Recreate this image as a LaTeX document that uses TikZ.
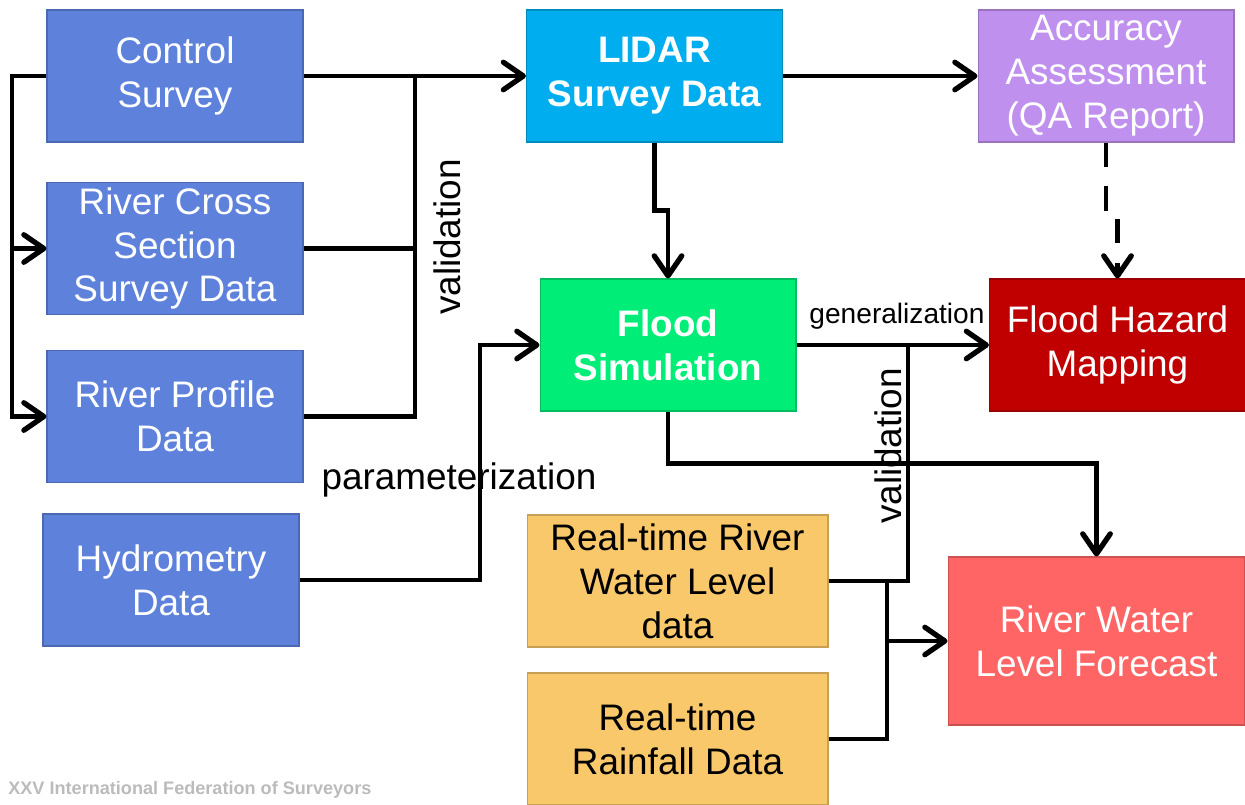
\documentclass[tikz,border=0pt]{standalone}
\usepackage{fontspec}
\setmainfont{Liberation Sans}
\usetikzlibrary{arrows.meta}
\definecolor{survey}{HTML}{5E82DC}
\definecolor{lidar}{HTML}{00AEEF}
\definecolor{qa}{HTML}{C090EF}
\definecolor{sim}{HTML}{00EE78}
\definecolor{hazard}{HTML}{C00000}
\definecolor{realtime}{HTML}{F9C86B}
\definecolor{forecast}{HTML}{FF6565}
\definecolor{foot}{HTML}{BBBBBB}
\tikzset{
  box/.style={fill=#1, draw=#1!80!black, line width=0.6pt, minimum width=5.12cm, minimum height=2.64cm,
    align=center, text=white, inner sep=1pt, font=\fontsize{21}{25}\selectfont},
  bf/.style={font=\fontsize{21}{25}\selectfont\bfseries},
  conn/.style={draw=black, line width=2.5pt},
  arr/.style={conn, -{Straight Barb[length=4mm,width=5.5mm,line width=3pt,round]}},
  darr/.style={arr, dash pattern=on 14pt off 11pt},
  lab/.style={text=black, font=\fontsize{21}{25}\selectfont, inner sep=1pt},
  labs/.style={text=black, font=\fontsize{16}{19}\selectfont, inner sep=1pt},
  foottxt/.style={text=foot, font=\fontsize{10.3}{12}\selectfont\bfseries, inner sep=0pt},
}
\begin{document}
\begin{tikzpicture}[x=0.02cm, y=-0.02cm]
  \useasboundingbox (0,0) rectangle (1245,805);

  \node[box=survey] (ctrl) at (175,76) {Control\\Survey};
  \node[box=survey] (xsec) at (175,248.5) {River Cross\\Section\\Survey Data};
  \node[box=survey] (prof) at (175,416.5) {River Profile\\Data};
  \node[box=survey] (hydro) at (171,580) {Hydrometry\\Data};
  \node[box=lidar, bf] (lidar) at (654.5,76) {LIDAR\\Survey Data};
  \node[box=qa] (qa) at (1106,76) {Accuracy\\Assessment\\(QA Report)};
  \node[box=sim, bf] (sim) at (668,345) {Flood\\Simulation};
  \node[box=hazard] (haz) at (1117.5,345) {Flood Hazard\\Mapping};
  \node[box=realtime, text=black, minimum width=6.02cm] (rwl) at (677.5,581) {Real-time River\\Water Level\\data};
  \node[box=realtime, text=black, minimum width=6.02cm] (rain) at (677.5,739) {Real-time\\Rainfall Data};
  \node[box=forecast, minimum width=5.94cm, minimum height=3.36cm] (fcst) at (1096.5,641) {River Water\\Level Forecast};

  \coordinate (vj) at (415,76);
  \coordinate (lb) at (12,76);
  \coordinate (hp) at (480,345);
  \coordinate (gv) at (908,345);
  \coordinate (fj) at (887,641);

  \draw[arr] (ctrl.east) -- (lidar.west);
  \draw[conn] (xsec.east) -| (vj);
  \draw[conn] (prof.east) -| (vj);
  \draw[arr] (ctrl.west) -- (lb) |- (xsec.west);
  \draw[arr] (lb) |- (prof.west);
  \draw[arr] (lidar.east) -- (qa.west);
  \draw[arr] (lidar.south) -- ++(0,68) -| (sim.north);
  \draw[darr] (qa.south) -- ++(0,71) -| (haz.north);
  \draw[arr] (sim.east) -- (haz.west);
  \draw[arr] (hydro.east) -| (hp) -- (sim.west);
  \draw[arr] (sim.south) -- ++(0,52) -| (fcst.north);
  \draw[conn] (rwl.east) -| (gv);
  \draw[conn] (rwl.east) -| (fj);
  \draw[conn] (rain.east) -| (fj);
  \draw[arr] (fj) -- (fcst.west);

  \node[lab, rotate=90] (val1) at (447,237) {validation};
  \node[lab, rotate=90] (val2) at (888,446) {validation};
  \node[lab] (param) at (459,480) {parameterization};
  \node[labs] (gen) at (897,316) {generalization};
  \node[foottxt, anchor=west] (foot) at (8,790) {XXV International Federation of Surveyors};
\end{tikzpicture}
\end{document}
